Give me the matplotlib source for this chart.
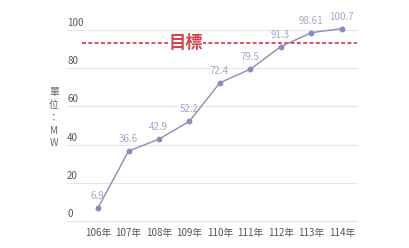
import matplotlib
matplotlib.use("Agg")
import matplotlib.pyplot as plt

plt.rcParams['font.family'] = ['Noto Sans CJK TC', 'DejaVu Sans']

years = ["106年", "107年", "108年", "109年", "110年", "111年", "112年", "113年", "114年"]
values = [6.9, 36.6, 42.9, 52.2, 72.4, 79.5, 91.3, 98.61, 100.7]
value_labels = ["6.9", "36.6", "42.9", "52.2", "72.4", "79.5", "91.3", "98.61", "100.7"]
target = 93
yticks = [0, 20, 40, 60, 80, 100]
unit_chars = ["單", "位", "：", "M", "W"]

fig = plt.figure(figsize=(4.10, 2.48), dpi=100)
ax = fig.add_axes([67/410, 1-221/248, 290/410, 191/248])
ax.set_xlim(-1.02, 8.5)
ax.set_ylim(0, 100)

for t in yticks:
    ax.axhline(t, color="#e6e6e6", lw=0.8, zorder=0, clip_on=False)
    ax.annotate(str(t), xy=(0, t), xycoords=("axes fraction", "data"),
                xytext=(0, 1.5), textcoords="offset points",
                ha="left", va="bottom", fontsize=7, color="#555555",
                annotation_clip=False)

x = list(range(len(values)))
ax.plot(x, values, color="#8c8cba", lw=1.0, marker="o", ms=3.2,
        markerfacecolor="#8c8cba", markeredgecolor="#8c8cba", clip_on=False, zorder=3)
for xi, v, lab in zip(x, values, value_labels):
    ax.annotate(lab, xy=(xi, v), xytext=(-0.5, 5), textcoords="offset points",
                ha="center", va="bottom", fontsize=7, color="#a3a8c8", zorder=4,
                annotation_clip=False)

# target line with label
ax.plot([-0.53, 8.5], [target, target], color="#d9434f", lw=1.3,
        ls=(0, (2.2, 1.3)), zorder=2, clip_on=False)
ax.text(2.87, target, "目標", ha="center", va="center", fontsize=12.5,
        fontweight="bold", color="#d9434f", zorder=5,
        bbox=dict(facecolor="white", edgecolor="none", pad=0.3))

ax.set_xticks(x)
ax.set_xticklabels(years, fontsize=7, color="#555555")
ax.tick_params(axis="x", length=0, pad=5)
ax.set_yticks([])
for s in ax.spines.values():
    s.set_visible(False)

# vertical unit label
ys = [92, 105, 118, 131, 143]
for ch, py in zip(unit_chars, ys):
    fig.text(54/410, 1-py/248, ch, ha="center", va="center", fontsize=7, color="#666666")

fig.savefig("out.png", dpi=100)
